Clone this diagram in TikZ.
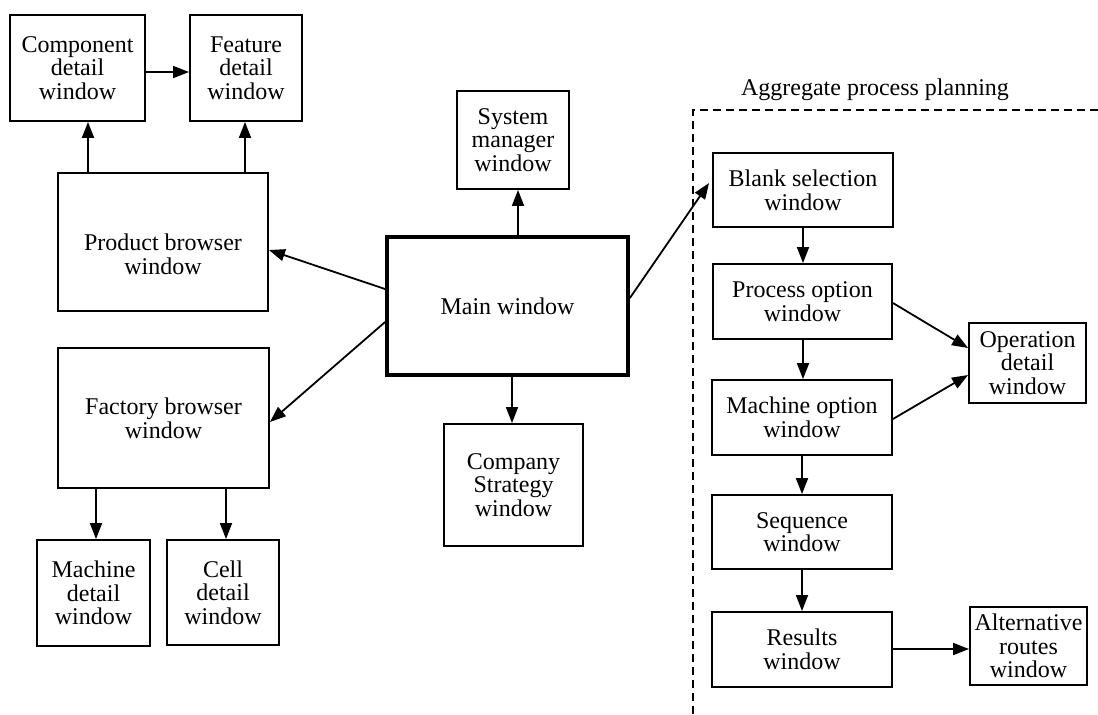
\documentclass[tikz,border=0pt]{standalone}
\usepackage{fontspec}
\setmainfont{Liberation Serif}
\usetikzlibrary{arrows.meta}
\begin{document}
\begin{tikzpicture}[x=0.5pt,y=-0.5pt,
  win/.style={draw, line width=0.95pt, align=center, inner sep=0pt,
    font=\fontsize{12}{11.8}\selectfont},
  mainwin/.style={win, line width=1.9pt},
  arr/.style={line width=0.9pt, -{Triangle[length=8pt,width=6pt]}},
  boundary/.style={line width=0.75pt, dash pattern=on 4pt off 2.5pt}]
\useasboundingbox (0,0) rectangle (1098,714);

% left-hand browsers and detail windows
\node[win, minimum width=67.5pt, minimum height=53pt] (comp) at (77.5,68) {Component\\detail\\window};
\node[win, minimum width=56pt, minimum height=53pt] (feat) at (246,68) {Feature\\detail\\window};
% the empty strut line sets the text a little below the middle of the box
\node[win, minimum width=105pt, minimum height=69pt] (prod) at (163,242) {\rule{0pt}{8.7pt}\\Product browser\\window};
\node[win, minimum width=105.5pt, minimum height=70pt] (fact) at (163.5,418) {Factory browser\\window};
\node[win, minimum width=56.5pt, minimum height=53pt] (mach) at (93.5,593) {Machine\\detail\\window};
\node[win, minimum width=56pt, minimum height=52.5pt] (cell) at (223,592.5) {Cell\\detail\\window};

% central windows
\node[win, minimum width=56pt, minimum height=49pt] (sys) at (513,140) {System\\manager\\window};
\node[mainwin, minimum width=120.5pt, minimum height=69pt] (main) at (507.5,306) {Main window};
\node[win, minimum width=69.5pt, minimum height=61pt] (strat) at (513.5,485) {Company\\Strategy\\window};

% aggregate process planning
\node[win, minimum width=90pt, minimum height=37pt] (blank) at (803,190) {Blank selection\\window};
\node[win, minimum width=89.5pt, minimum height=37.5pt] (proc) at (802.5,301.5) {Process option\\window};
\node[win, minimum width=90pt, minimum height=37.5pt] (mopt) at (802,417.5) {Machine option\\window};
\node[win, minimum width=90pt, minimum height=37pt] (seq) at (802,532) {Sequence\\window};
\node[win, minimum width=90pt, minimum height=37.5pt] (res) at (802,649.5) {Results\\window};
\node[win, minimum width=58.5pt, minimum height=40pt] (op) at (1027.5,363) {Operation\\detail\\window};
\node[win, minimum width=58.5pt, minimum height=39pt] (alt) at (1028.5,646) {Alternative\\routes\\window};

\node[font=\fontsize{12}{14}\selectfont, anchor=base] (aggtitle) at (875,95) {Aggregate process planning};
\draw[boundary] (1098,110) -- (693,110) -- (693,714);

% connectors
\draw[arr] (comp.east |- 0,72) -- (feat.west |- 0,72);
\draw[arr] (prod.north -| 88,0) -- (comp.south -| 88,0);
\draw[arr] (prod.north -| 245,0) -- (feat.south -| 245,0);
\draw[arr] (main.west |- 0,289) -- (prod.east |- 0,250);
\draw[arr] (main.west |- 0,322) -- (fact.east |- 0,422);
\draw[arr] (fact.south -| 96,0) -- (mach.north -| 96,0);
\draw[arr] (fact.south -| 226,0) -- (cell.north -| 226,0);
\draw[arr] (main.north -| 518,0) -- (sys.south -| 518,0);
\draw[arr] (main.south -| 512,0) -- (strat.north -| 512,0);
\draw[arr] (main.east |- 0,298) -- ([xshift=-1.5pt]blank.west |- 0,183);
\draw[arr] (blank.south -| 803,0) -- (proc.north -| 803,0);
\draw[arr] (proc.south -| 803,0) -- (mopt.north -| 803,0);
\draw[arr] (mopt.south -| 802,0) -- (seq.north -| 802,0);
\draw[arr] (seq.south -| 802,0) -- (res.north -| 802,0);
\draw[arr] (proc.east |- 0,303) -- (op.west |- 0,348);
\draw[arr] (mopt.east |- 0,419) -- (op.west |- 0,375);
\draw[arr] (res.east |- 0,649) -- (alt.west |- 0,649);
\end{tikzpicture}
\end{document}
